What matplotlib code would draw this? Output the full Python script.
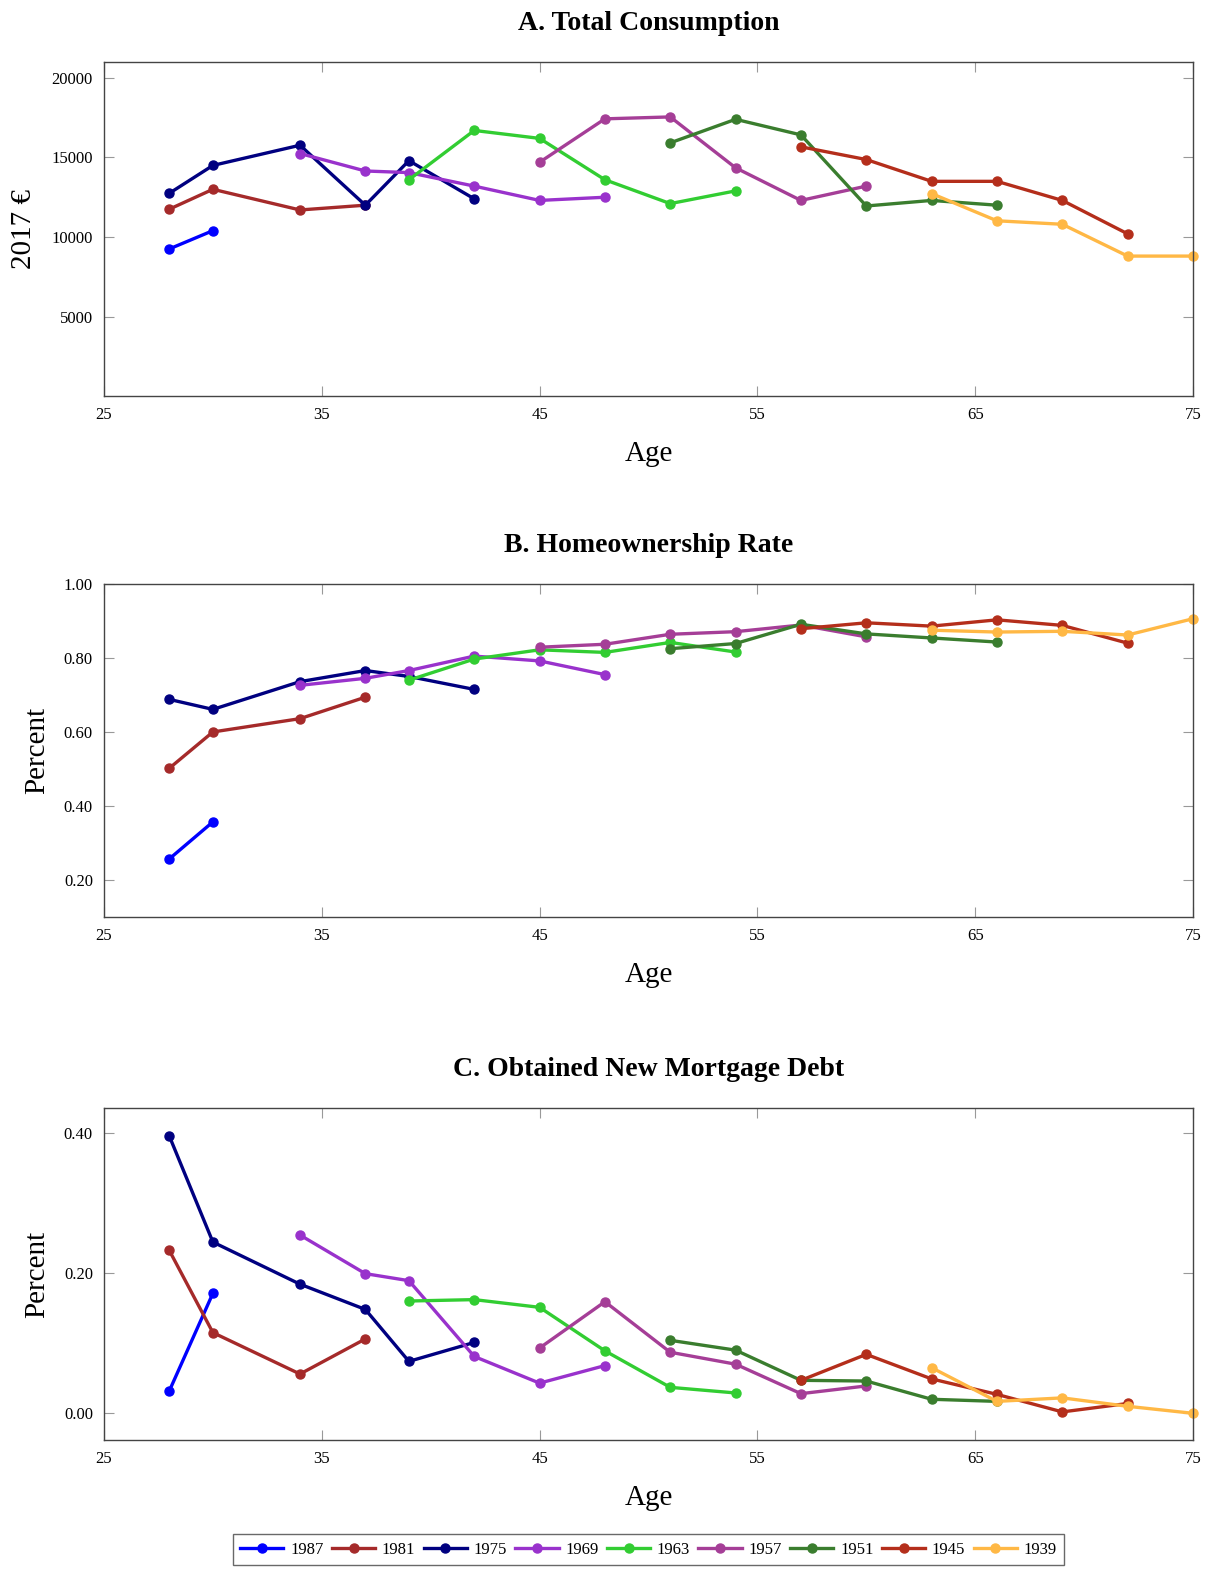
import matplotlib.pyplot as plt

plt.rcParams['font.family'] = ['Liberation Serif', 'DejaVu Serif']

# cohorts (birth year), colours and ages observed
cohorts = ['1987', '1981', '1975', '1969', '1963', '1957', '1951', '1945', '1939']
colors = ['#0000FF', '#A52A2A', '#000080', '#9932CC', '#32CD32',
          '#A53E97', '#3A7D2E', '#B42E1B', '#FFB845']
ages = [
    [28, 30],
    [28, 30, 34, 37],
    [28, 30, 34, 37, 39, 42],
    [34, 37, 39, 42, 45, 48],
    [39, 42, 45, 48, 51, 54],
    [45, 48, 51, 54, 57, 60],
    [51, 54, 57, 60, 63, 66],
    [57, 60, 63, 66, 69, 72],
    [63, 66, 69, 72, 75],
]

# A. total consumption (2017 euro)
consumption = [
    [9250, 10400],
    [11750, 13000, 11700, 12000],
    [12750, 14500, 15770, 12000, 14800, 12400],
    [15250, 14150, 14050, 13200, 12300, 12500],
    [13600, 16700, 16200, 13600, 12100, 12900],
    [14700, 17430, 17550, 14350, 12300, 13200],
    [15920, 17400, 16420, 11950, 12300, 12000],
    [15670, 14870, 13500, 13500, 12300, 10200],
    [12730, 11020, 10800, 8800, 8800],
]

# B. homeownership rate
homeown = [
    [0.257, 0.357],
    [0.502, 0.600, 0.636, 0.694],
    [0.688, 0.661, 0.736, 0.766, 0.750, 0.715],
    [0.726, 0.745, 0.766, 0.805, 0.792, 0.755],
    [0.740, 0.797, 0.822, 0.815, 0.842, 0.816],
    [0.829, 0.837, 0.864, 0.871, 0.889, 0.857],
    [0.825, 0.839, 0.891, 0.865, 0.854, 0.843],
    [0.879, 0.895, 0.886, 0.903, 0.888, 0.840],
    [0.875, 0.870, 0.872, 0.862, 0.906],
]

# C. obtained new mortgage debt
mortgage = [
    [0.032, 0.171],
    [0.232, 0.115, 0.056, 0.106],
    [0.395, 0.244, 0.184, 0.148, 0.074, 0.101],
    [0.254, 0.199, 0.189, 0.081, 0.043, 0.068],
    [0.160, 0.162, 0.151, 0.089, 0.037, 0.029],
    [0.093, 0.159, 0.087, 0.070, 0.028, 0.039],
    [0.104, 0.090, 0.047, 0.046, 0.020, 0.017],
    [0.047, 0.084, 0.049, 0.027, 0.002, 0.014],
    [0.065, 0.017, 0.022, 0.010, 0.000],
]

x_ticks = [25, 35, 45, 55, 65, 75]


def details(ax, tit, yax, ylim, yticks, fmt):
    for i in range(len(cohorts)):
        ax.plot(ages[i], data[tit][i], color=colors[i], lw=2.4, marker='o',
                ms=6.5, label=cohorts[i], clip_on=False)
    ax.set_title(tit, fontsize=20, fontweight='bold', pad=23)
    ax.set_xlabel('Age', fontsize=21, labelpad=13)
    ax.set_ylabel(yax, fontsize=21, labelpad=10)
    ax.set_xlim(25, 75)
    ax.set_ylim(*ylim)
    ax.set_xticks(x_ticks)
    ax.set_yticks(yticks)
    ax.set_yticklabels([fmt % v for v in yticks])
    ax.tick_params(direction='in', length=7, width=0.8, color='#999999',
                   labelsize=12, pad=8, top=True, right=True)
    for s in ax.spines.values():
        s.set_color('#444444')
        s.set_linewidth(1.0)


data = {
    'A. Total Consumption': consumption,
    'B. Homeownership Rate': homeown,
    'C. Obtained New Mortgage Debt': mortgage,
}

fig = plt.figure(figsize=(12.12, 15.71), dpi=100)
ax1 = fig.add_axes([0.0858, 0.7479, 0.8985, 0.2126])
ax2 = fig.add_axes([0.0858, 0.4163, 0.8985, 0.2120])
ax3 = fig.add_axes([0.0858, 0.0834, 0.8985, 0.2113])

details(ax1, 'A. Total Consumption', '2017 €', (0, 21000),
        [5000, 10000, 15000, 20000], '%d')
details(ax2, 'B. Homeownership Rate', 'Percent', (0.1, 1.0),
        [0.2, 0.4, 0.6, 0.8, 1.0], '%.2f')
details(ax3, 'C. Obtained New Mortgage Debt', 'Percent', (-0.038, 0.435),
        [0.0, 0.2, 0.4], '%.2f')

h, l = ax3.get_legend_handles_labels()
leg = fig.legend(h, l, loc='center', bbox_to_anchor=(0.535, 0.0136), ncol=9,
                 fontsize=12, frameon=True, fancybox=False, edgecolor='#444444',
                 handlelength=2.6, columnspacing=0.5, handletextpad=0.4,
                 borderpad=0.45)
leg.get_frame().set_linewidth(1.0)

fig.savefig('out.png', dpi=100)
